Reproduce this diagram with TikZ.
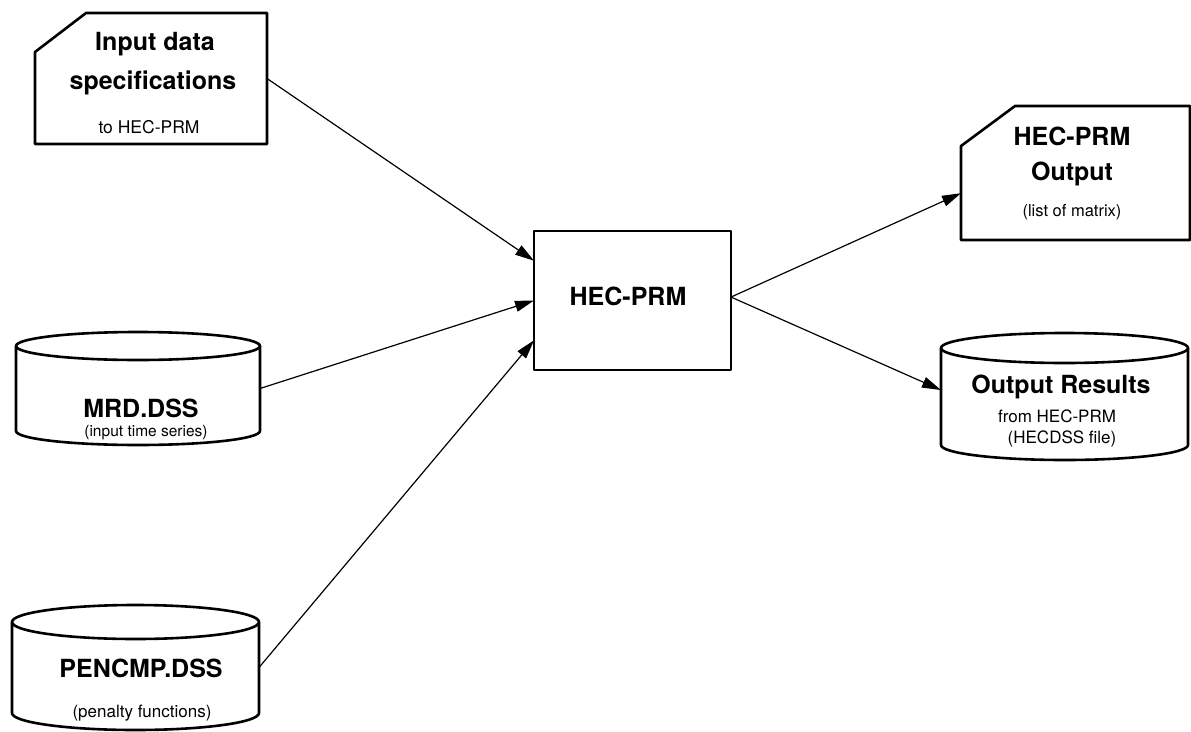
\documentclass[tikz,border=0pt]{standalone}
\usepackage{fontspec}
\setmainfont{TeX Gyre Heros}
\usetikzlibrary{arrows.meta}
\newcommand\drum[3]{%
  \draw[outline] ([yshift=-#3]#1.north west) arc[start angle=180,end angle=0,x radius=#2,y radius=#3]
    -- ([yshift=#3]#1.south east) arc[start angle=0,end angle=-180,x radius=#2,y radius=#3] -- cycle;
  \draw[outline] ([yshift=-#3]#1.north west) arc[start angle=180,end angle=360,x radius=#2,y radius=#3];
}
\begin{document}
\begin{tikzpicture}[x=1pt, y=1pt, line join=round, >={Triangle[length=19pt,width=11pt]},
    outline/.style={line width=2.6pt},
    frame/.style={inner sep=0pt, outer sep=0pt},
    title/.style={anchor=base, font=\bfseries\fontsize{25}{30}\selectfont},
    note/.style={anchor=base, font=\fontsize{17}{20}\selectfont},
    flow/.style={->, line width=1.2pt}]
				\useasboundingbox (0,0) rectangle (1191,-731);
				% shapes
				\node[frame, minimum width=232pt, minimum height=131pt] (inp) at (151,-78.5) {};
				\draw[outline] ([yshift=-39pt]inp.north west) -- ([xshift=51pt]inp.north west) -- (inp.north east)
					-- (inp.south east) -- (inp.south west) -- cycle;
				\node[frame, minimum width=244pt, minimum height=113pt] (mrd) at (138,-388.5) {};
				\drum{mrd}{122pt}{14pt}
				\node[frame, minimum width=247pt, minimum height=125pt] (pen) at (135.5,-667.5) {};
				\drum{pen}{123.5pt}{17pt}
				\node[frame, draw, line width=2.6pt, minimum width=197pt, minimum height=139pt] (prm) at (632.5,-300.5) {};
				\node[frame, minimum width=229pt, minimum height=134pt] (out) at (1075.5,-173) {};
				\draw[outline] ([yshift=-40pt]out.north west) -- ([xshift=54pt]out.north west) -- (out.north east)
					-- (out.south east) -- (out.south west) -- cycle;
				\node[frame, minimum width=247pt, minimum height=127pt] (res) at (1064.5,-396.5) {};
				\drum{res}{123.5pt}{15pt}
				% texts
				\node[title] (inp-a) at (155,-50) {Input data};
				\node[title] (inp-b) at (153,-89) {specifications};
				\node[note, font=\fontsize{17.5}{20}\selectfont] (inp-c) at (149,-133) {to HEC-PRM};
				\node[title] (mrd-a) at (141,-417) {MRD.DSS};
				\node[note, font=\fontsize{15.5}{19}\selectfont] (mrd-b) at (146,-436) {(input time series)};
				\node[title] (pen-a) at (141,-677) {PENCMP.DSS};
				\node[note] (pen-b) at (142,-717) {(penalty functions)};
				\node[title] (prm-a) at (628,-305) {HEC-PRM};
				\node[title] (out-a) at (1072,-145) {HEC-PRM};
				\node[title] (out-b) at (1072,-180) {Output};
				\node[note, font=\fontsize{16.5}{20}\selectfont] (out-c) at (1072,-216) {(list of matrix)};
				\node[title] (res-a) at (1061,-393) {Output Results};
				\node[note] (res-b) at (1057,-422) {from HEC-PRM};
				\node[note] (res-c) at (1062,-443) {(HECDSS file)};
				% connectors
				\draw[flow] (inp.east) -- (prm.158.7);
				\draw[flow] (mrd.east) -- (prm.west);
				\draw[flow] (pen.east) -- (prm.202);
				\draw[flow] (prm.2) -- (out.190);
				\draw[flow] (prm.2) -- (res.177);
\end{tikzpicture}
\end{document}
